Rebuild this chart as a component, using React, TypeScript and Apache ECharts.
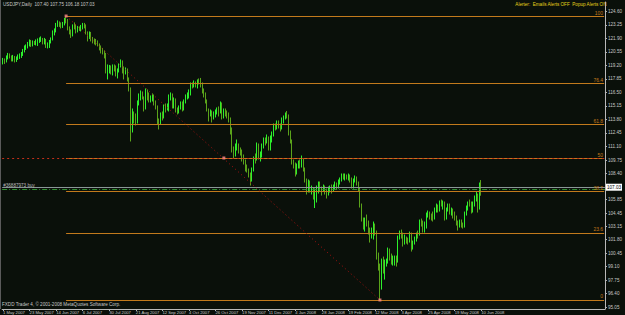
import React, { useEffect, useRef } from "react";
import * as echarts from "echarts";

// [open, close, low, high] per trading day
const may07 = [
  [119.55, 119.7, 119.3, 119.95], [119.7, 119.6, 119.35, 119.9], [119.6, 120.0, 119.5, 120.2], [120.0, 120.25, 119.8, 120.45],
  [120.25, 120.1, 119.9, 120.4], [120.1, 119.8, 119.6, 120.2], [119.8, 120.0, 119.6, 120.25], [120.0, 119.7, 119.5, 120.15], [119.7, 119.9, 119.55, 120.1],
  [119.9, 120.05, 119.75, 120.3], [120.05, 120.15, 119.85, 120.4], [120.15, 120.3, 119.95, 120.55], [120.3, 120.65, 120.15, 120.85], [120.65, 121.0, 120.5, 121.2],
  [121.0, 121.05, 120.75, 121.3], [121.05, 121.35, 120.9, 121.55], [121.35, 121.6, 121.1, 121.8], [121.6, 121.3, 121.05, 121.75], [121.3, 121.5, 121.1, 121.7],
  [121.5, 121.4, 121.25, 121.65], [121.4, 121.6, 121.2, 121.8], [121.6, 121.7, 121.15, 121.9], [121.7, 121.75, 121.45, 122.0],
];
const jun07 = [
  [121.75, 121.9, 121.55, 122.1],
  [121.9, 121.5, 121.3, 121.95], [121.5, 121.8, 121.3, 121.95], [121.8, 121.2, 120.95, 121.85], [121.2, 121.25, 120.9, 121.5], [121.25, 121.6, 120.95, 121.75],
  [121.6, 121.8, 121.4, 122.0], [121.8, 122.5, 121.7, 122.7], [122.5, 122.6, 122.2, 122.9], [122.6, 123.3, 122.5, 123.45], [123.3, 123.4, 123.05, 123.7],
  [123.4, 123.3, 123.05, 123.6], [123.3, 123.2, 122.9, 123.5], [123.2, 123.3, 122.95, 123.55], [123.3, 123.8, 123.2, 123.95], [123.8, 123.75, 123.4, 124.14],
  [123.75, 122.9, 122.7, 123.85], [122.9, 122.6, 122.3, 123.1], [122.6, 122.2, 121.95, 122.8], [122.2, 123.2, 122.1, 123.3], [123.2, 123.15, 122.8, 123.5],
];
const jul07 = [
  [123.15, 122.6, 122.4, 123.3], [122.6, 123.0, 122.5, 123.15], [123.0, 122.8, 122.65, 123.1], [122.8, 123.0, 122.6, 123.25], [123.0, 123.2, 122.8, 123.45],
  [123.2, 123.15, 122.9, 123.45], [123.15, 122.5, 122.3, 123.3], [122.5, 122.0, 121.6, 122.6], [122.0, 122.4, 121.85, 122.6], [122.4, 121.8, 121.6, 122.55],
  [121.8, 121.7, 121.4, 122.05], [121.7, 121.6, 121.3, 121.9], [121.6, 121.5, 121.2, 121.85], [121.5, 121.3, 121.1, 121.7], [121.3, 121.0, 120.7, 121.4],
  [121.0, 120.7, 120.4, 121.2], [120.7, 120.6, 120.3, 120.95], [120.6, 120.3, 119.9, 120.7], [120.3, 118.7, 118.4, 120.45], [118.7, 118.75, 117.8, 119.3],
  [118.75, 119.0, 118.4, 119.25], [119.0, 118.6, 118.3, 119.2],
];
const aug07 = [
  [118.6, 119.0, 118.2, 119.3], [119.0, 118.95, 118.6, 119.3], [118.95, 118.4, 118.1, 119.2],
  [118.4, 118.7, 117.9, 118.9], [118.7, 119.2, 118.5, 119.4], [119.2, 119.6, 119.0, 119.8], [119.6, 118.7, 118.4, 119.7], [118.7, 118.6, 117.8, 119.1],
  [118.6, 118.8, 118.3, 119.0], [118.8, 117.9, 117.6, 118.9], [117.9, 116.9, 116.6, 118.0], [116.9, 113.9, 111.6, 117.0], [113.9, 114.0, 112.5, 114.9],
  [114.0, 113.95, 113.4, 114.6], [113.95, 113.5, 113.2, 114.4], [113.5, 115.5, 113.4, 115.7], [115.5, 116.2, 115.2, 116.4], [116.2, 116.5, 115.7, 116.7],
  [116.5, 116.0, 115.8, 116.6], [116.0, 115.0, 114.6, 116.1], [115.0, 116.7, 114.8, 116.9], [116.7, 116.0, 115.7, 116.8], [116.0, 115.8, 115.5, 116.5],
];
const sep07 = [
  [115.8, 115.9, 115.5, 116.2], [115.9, 116.2, 115.6, 116.4], [116.2, 115.5, 115.2, 116.3], [115.5, 115.0, 114.8, 115.7], [115.0, 113.6, 113.3, 115.2],
  [113.6, 113.5, 112.8, 113.9], [113.5, 114.3, 113.3, 114.5], [114.3, 114.0, 113.7, 114.6], [114.0, 115.0, 113.9, 115.3], [115.0, 114.95, 114.5, 115.4],
  [114.95, 115.1, 114.7, 115.4], [115.1, 116.1, 114.6, 116.3], [116.1, 116.3, 115.7, 116.5], [116.3, 115.0, 114.9, 116.4], [115.0, 115.8, 114.9, 116.0],
  [115.8, 114.7, 114.5, 115.9], [114.7, 114.6, 114.3, 115.0], [114.6, 115.0, 114.4, 115.2], [115.0, 115.4, 114.8, 115.6], [115.4, 114.8, 114.6, 115.6],
];
const oct07 = [
  [114.8, 115.6, 114.7, 115.8], [115.6, 116.1, 115.4, 116.3], [116.1, 116.2, 115.8, 116.5], [116.2, 116.6, 115.9, 116.8], [116.6, 117.3, 116.2, 117.5],
  [117.3, 117.2, 116.9, 117.5], [117.2, 117.5, 117.0, 117.7], [117.5, 117.3, 117.0, 117.6], [117.3, 117.6, 116.9, 117.8], [117.6, 117.55, 117.3, 117.9],
  [117.55, 117.4, 117.0, 117.95], [117.4, 116.7, 116.4, 117.5], [116.7, 116.4, 116.0, 116.9], [116.4, 115.6, 115.4, 116.5], [115.6, 114.8, 114.6, 115.8],
  [114.8, 114.3, 113.6, 114.9], [114.3, 114.6, 114.1, 114.8], [114.6, 114.0, 113.5, 114.7], [114.0, 114.4, 113.8, 114.6], [114.4, 114.5, 114.0, 114.8],
  [114.5, 114.8, 114.3, 115.0], [114.8, 114.6, 114.1, 115.1], [114.6, 115.3, 114.4, 115.6],
];
const nov07 = [
  [115.3, 114.0, 113.8, 115.5], [114.0, 114.7, 113.9, 114.9],
  [114.7, 114.5, 114.1, 114.9], [114.5, 114.3, 113.9, 114.7], [114.3, 113.8, 113.5, 114.5], [113.8, 112.8, 112.3, 114.0], [112.8, 110.8, 110.5, 113.0],
  [110.8, 110.5, 109.9, 111.1], [110.5, 111.0, 110.1, 111.4], [111.0, 111.2, 110.7, 111.8], [111.2, 110.7, 110.4, 111.4], [110.7, 110.6, 110.2, 111.0],
  [110.6, 110.0, 109.6, 110.8], [110.0, 109.6, 109.3, 110.3], [109.6, 109.1, 108.6, 109.8], [109.1, 108.8, 108.5, 109.3], [108.8, 108.3, 108.0, 108.9],
  [108.3, 107.8, 107.2, 108.5], [107.8, 108.8, 107.6, 109.0], [108.8, 109.9, 108.6, 110.1], [109.9, 109.85, 109.4, 110.4], [109.85, 111.3, 109.7, 111.5],
];
const dec07 = [
  [111.3, 110.0, 109.8, 111.4], [110.0, 110.2, 109.6, 110.6], [110.2, 111.1, 110.0, 111.4], [111.1, 111.8, 110.9, 112.0], [111.8, 111.6, 111.2, 112.0],
  [111.6, 112.0, 111.4, 112.3], [112.0, 110.9, 110.7, 112.1], [110.9, 111.8, 110.7, 112.2], [111.8, 112.3, 111.5, 112.6], [112.3, 113.1, 112.1, 113.4],
  [113.1, 113.05, 112.7, 113.4], [113.05, 113.5, 112.8, 113.7], [113.5, 113.2, 112.9, 113.7], [113.2, 112.9, 112.6, 113.4], [112.9, 113.6, 112.8, 114.0],
  [113.6, 114.0, 113.4, 114.2], [114.0, 114.3, 113.8, 114.5], [114.3, 114.2, 113.9, 114.65], [114.2, 112.5, 112.2, 114.3], [112.5, 111.7, 111.4, 112.7],
];
const jan08 = [
  [111.7, 109.6, 109.3, 111.8], [109.6, 109.3, 108.9, 109.8], [109.3, 108.5, 108.1, 109.5],
  [108.5, 109.1, 108.3, 109.4], [109.1, 109.4, 108.9, 109.7], [109.4, 109.3, 108.9, 109.8], [109.3, 109.6, 109.0, 110.2], [109.6, 108.8, 108.6, 109.9],
  [108.8, 107.8, 107.5, 109.0], [107.8, 106.6, 106.3, 107.9], [106.6, 107.4, 106.5, 107.8], [107.4, 106.7, 106.5, 107.7], [106.7, 106.8, 106.3, 107.2],
  [106.8, 106.2, 105.8, 107.0], [106.2, 106.4, 104.95, 106.9], [106.4, 106.7, 105.5, 107.2], [106.7, 107.3, 106.4, 107.6], [107.3, 106.8, 106.6, 107.6],
  [106.8, 106.7, 106.2, 107.1], [106.7, 107.0, 106.6, 107.3], [107.0, 106.6, 106.3, 107.2], [106.6, 106.4, 105.9, 106.9],
];
const feb08 = [
  [106.4, 106.8, 106.2, 107.1],
  [106.8, 106.9, 106.5, 107.2], [106.9, 106.85, 106.4, 107.3], [106.85, 107.0, 106.6, 107.3], [107.0, 107.3, 106.8, 107.6], [107.3, 107.1, 106.8, 107.5],
  [107.1, 107.5, 106.9, 107.8], [107.5, 107.8, 107.3, 108.0], [107.8, 108.2, 107.6, 108.4], [108.2, 108.0, 107.8, 108.4], [108.0, 108.2, 107.7, 108.4],
  [108.2, 108.0, 107.8, 108.3], [108.0, 108.1, 107.7, 108.4], [108.1, 107.8, 107.5, 108.3], [107.8, 107.2, 106.9, 108.0], [107.2, 107.7, 106.9, 107.9],
  [107.7, 107.9, 107.5, 108.2], [107.9, 107.5, 107.2, 108.1], [107.5, 106.9, 106.6, 107.6], [106.9, 105.3, 105.0, 107.0], [105.3, 103.8, 103.6, 105.4],
];
const mar08 = [
  [103.8, 103.2, 102.8, 104.0], [103.2, 103.8, 102.6, 104.0], [103.8, 103.4, 103.1, 104.3], [103.4, 102.6, 102.3, 103.7], [102.6, 102.4, 101.5, 103.0],
  [102.4, 102.5, 101.9, 103.0], [102.5, 103.2, 101.8, 103.6], [103.2, 102.6, 102.2, 103.4], [102.6, 100.1, 99.8, 102.7], [100.1, 99.2, 98.7, 100.5],
  [99.2, 97.0, 95.76, 99.4], [97.0, 99.6, 96.8, 99.9], [99.6, 98.6, 98.4, 100.1], [98.6, 99.5, 97.8, 99.8], [99.5, 99.6, 99.1, 99.9],
  [99.6, 100.8, 99.4, 101.0], [100.8, 100.0, 99.7, 100.9], [100.0, 99.6, 99.3, 100.4], [99.6, 99.7, 99.2, 100.2], [99.7, 99.9, 99.2, 100.2],
  [99.9, 99.7, 99.1, 100.2],
];
const apr08 = [
  [99.7, 102.0, 99.5, 102.2], [102.0, 102.4, 101.8, 102.7], [102.4, 102.2, 101.9, 102.8], [102.2, 101.4, 101.1, 102.5],
  [101.4, 102.0, 101.3, 102.3], [102.0, 101.8, 101.4, 102.1], [101.8, 101.7, 101.3, 102.0], [101.7, 102.4, 101.5, 102.6], [102.4, 100.9, 100.6, 102.5],
  [100.9, 101.5, 100.8, 101.7], [101.5, 101.9, 101.3, 102.1], [101.9, 102.3, 101.6, 102.5], [102.3, 102.25, 101.9, 102.7], [102.25, 103.6, 102.2, 103.8],
  [103.6, 103.55, 103.1, 103.9], [103.55, 102.7, 102.5, 103.7], [102.7, 103.3, 102.5, 103.6], [103.3, 104.3, 102.9, 104.5], [104.3, 104.5, 104.0, 104.7],
  [104.5, 104.1, 103.8, 104.6], [104.1, 104.0, 103.7, 104.4], [104.0, 103.9, 103.6, 104.6],
];
const may08 = [
  [103.9, 104.9, 103.8, 105.0], [104.9, 105.1, 104.5, 105.4],
  [105.1, 104.7, 104.5, 105.3], [104.7, 105.5, 104.6, 105.7], [105.5, 105.45, 105.1, 105.8], [105.45, 105.5, 104.8, 105.7], [105.5, 104.0, 103.7, 105.6],
  [104.0, 104.8, 103.8, 105.0], [104.8, 105.2, 104.6, 105.4], [105.2, 104.6, 104.3, 105.4], [104.6, 104.7, 104.2, 105.0], [104.7, 104.3, 103.9, 104.9],
  [104.3, 104.0, 103.7, 104.6], [104.0, 103.5, 103.2, 104.2], [103.5, 103.2, 102.7, 103.7], [103.2, 103.6, 103.0, 103.8], [103.6, 103.4, 103.0, 103.8],
  [103.4, 103.1, 102.9, 103.5], [103.1, 104.4, 103.0, 104.6], [104.4, 104.9, 104.2, 105.2], [104.9, 105.5, 104.7, 105.6], [105.5, 105.45, 105.1, 105.8],
];
const jun08 = [
  [105.45, 104.6, 104.4, 105.6], [104.6, 105.3, 104.5, 105.6], [105.3, 106.0, 105.1, 106.2], [106.0, 106.2, 105.6, 106.6], [106.2, 104.9, 104.5, 106.4],
  [104.9, 107.4, 104.8, 107.5], [107.4, 107.03, 106.18, 107.75],
];

// Fibonacci tool: anchors (bar index, price) and levels
const fibAnchorIndex = [38, 227];
const fibAnchorPrice = [124.14, 95.76];
const fibLevels = [0, 23.6, 38.2, 50, 61.8, 76.4, 100];

// right price scale labels
const yTickValues = [124.6, 123.25, 121.9, 120.55, 119.2, 117.85, 116.5, 115.15, 113.8, 112.45, 111.1, 109.75, 108.4,
  105.85, 104.45, 103.15, 101.8, 100.45, 99.1, 97.75, 96.4, 95.05];

const bidPrice = 107.03;
const orderPrice = 106.85;
const orderText = "#36887973 buy";
const headerText = "USDJPY,Daily  107.40 107.75 106.18 107.03";
const alertText = "Alerter:  Emails Alerts OFF  Popup Alerts ON";
const copyText = "FXDD Trader 4, \u00a9 2001-2008 MetaQuotes Software Corp.";

const holidays = ["2007-12-25", "2008-01-01"];
const MONTHS = ["Jan", "Feb", "Mar", "Apr", "May", "Jun", "Jul", "Aug", "Sep", "Oct", "Nov", "Dec"];
const EMPTY_BARS = 74;
const LABEL_EVERY = 16;

function tradingDays(start: string, end: string): string[] {
  const out: string[] = [];
  const d = new Date(start + "T00:00:00Z");
  const e = new Date(end + "T00:00:00Z");
  while (d <= e) {
    const wd = d.getUTCDay();
    const iso = d.toISOString().slice(0, 10);
    if (wd !== 0 && wd !== 6 && !holidays.includes(iso)) {
      out.push(`${d.getUTCDate()} ${MONTHS[d.getUTCMonth()]} ${d.getUTCFullYear()}`);
    }
    d.setUTCDate(d.getUTCDate() + 1);
  }
  return out;
}

export default function App() {
  const ref = useRef<HTMLDivElement>(null);
  useEffect(() => {
    if (!ref.current) return;
    const chart = echarts.init(ref.current, null, { renderer: "svg" });
    const candles = [...may07, ...jun07, ...jul07, ...aug07, ...sep07, ...oct07, ...nov07, ...dec07,
      ...jan08, ...feb08, ...mar08, ...apr08, ...may08, ...jun08];
    const dates = tradingDays("2007-05-01", "2008-06-10");
    const realCount = dates.length;
    const cats = [...dates];
    for (let i = 0; i < EMPTY_BARS; i++) cats.push("");
    const lastIdx = cats.length - 1;
    const showIdx = (i: number) => i % LABEL_EVERY === 0 && i < realCount;

    const [hiIdx, loIdx] = fibAnchorIndex;
    const [hi, lo] = fibAnchorPrice;
    const lvl = (p: number) => lo + (hi - lo) * p / 100;
    const orange = "#c27a1c";
    const txt = "#c8c8c8";
    const font = "Liberation Sans";

    const fibLines = fibLevels.map((p) => [
      {
        coord: [hiIdx, lvl(p)],
        lineStyle: { color: orange, width: 1, type: "solid" },
        label: { show: true, position: "insideEndTop", formatter: String(p), color: orange, fontSize: 5, distance: 1, fontFamily: font },
      },
      { coord: [lastIdx, lvl(p)] },
    ]);

    chart.setOption({
      animation: false,
      backgroundColor: "#0a100a",
      textStyle: { fontFamily: font },
      grid: { left: 1, right: 16, top: 2, height: 307 },
      xAxis: {
        type: "category",
        data: cats,
        boundaryGap: true,
        axisLine: { show: true, lineStyle: { color: "#b8b8b8", width: 1 } },
        axisTick: { show: true, alignWithLabel: true, length: 2, interval: (i: number) => showIdx(i), lineStyle: { color: "#b8b8b8" } },
        axisLabel: { show: true, interval: (i: number) => showIdx(i), align: "left", margin: 1, fontSize: 4.2, color: txt, fontFamily: font },
        splitLine: { show: false },
      },
      yAxis: {
        type: "value",
        position: "right",
        min: 94.86,
        max: 125.54,
        scale: true,
        axisLine: { show: true, lineStyle: { color: "#b8b8b8", width: 1 } },
        axisTick: { show: true, length: 2, customValues: yTickValues, lineStyle: { color: "#b8b8b8" } },
        axisLabel: { show: true, customValues: yTickValues, margin: 3, fontSize: 4.6, color: txt, fontFamily: font, formatter: (v: number) => v.toFixed(2) },
        splitLine: { show: false },
      },
      series: [
        {
          type: "candlestick",
          data: candles,
          barWidth: 1.3,
          itemStyle: { color: "#2cf02c", color0: "#5aa31a", borderColor: "#2cf02c", borderColor0: "#5aa31a", borderWidth: 1 },
          markLine: {
            silent: true,
            symbol: "none",
            animation: false,
            label: { show: false },
            data: [
              ...fibLines,
              {
                yAxis: lvl(50),
                lineStyle: { color: "#c0301a", width: 1, type: [2, 3] },
                label: { show: false },
              },
              {
                yAxis: bidPrice,
                lineStyle: { color: "#8a9696", width: 1, type: "solid" },
                label: {
                  show: true, position: "end", formatter: bidPrice.toFixed(2), color: "#000", backgroundColor: "#ffffff",
                  fontSize: 4.6, padding: [1, 1, 1, 1], distance: 1, fontFamily: font,
                },
              },
              {
                yAxis: orderPrice,
                lineStyle: { color: "#2f8f2f", width: 1, type: [5, 2, 1, 2] },
                label: { show: true, position: "insideStartTop", formatter: orderText, color: "#bcbcbc", fontSize: 4.6, distance: 1, fontFamily: font },
              },
              [
                { coord: [hiIdx, hi], lineStyle: { color: "#b01010", width: 1, type: [1, 3] }, label: { show: false } },
                { coord: [loIdx, lo] },
              ],
            ],
          },
        },
        {
          type: "scatter",
          silent: true,
          symbol: "rect",
          symbolSize: 3,
          itemStyle: { color: "#ff8a8a" },
          data: [[hiIdx, hi], [(hiIdx + loIdx) / 2, lvl(50)], [loIdx, lo]],
          z: 5,
        },
      ],
      graphic: [
        { type: "line", shape: { x1: 0.5, y1: 0, x2: 0.5, y2: 309 }, style: { stroke: "#5a5a5a", lineWidth: 1 } },
        { type: "text", left: 3, top: 2, style: { text: headerText, fill: txt, fontSize: 4.6, fontFamily: font } },
        { type: "text", right: 18, top: 2, style: { text: alertText, fill: "#e6d21a", fontSize: 4.6, fontFamily: font } },
        { type: "text", left: 2, top: 302, style: { text: copyText, fill: txt, fontSize: 4.6, fontFamily: font } },
      ],
    });
    return () => chart.dispose();
  }, []);
  return <div ref={ref} style={{ position: "absolute", left: 0, top: 0, width: 625, height: 315 }} />;
}
